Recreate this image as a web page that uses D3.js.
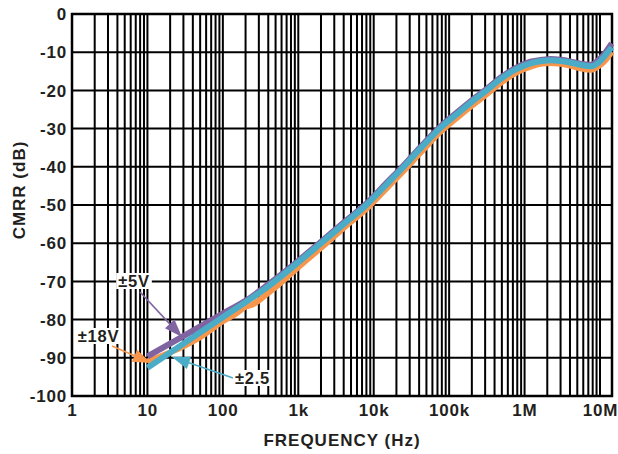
<!DOCTYPE html>
<html><head><meta charset="utf-8">
<script src="https://cdn.jsdelivr.net/npm/d3@7/dist/d3.min.js"></script>
<style>body{margin:0;background:#fff}svg{display:block}text{font-family:"Liberation Sans",Arial,sans-serif;font-weight:bold;fill:#231f20}</style>
</head><body><svg id="c" width="618" height="454"></svg>
<script>
// ---- data ----
const freq5 = [10,30,100,207,400,1e3,2e3,4e3,8e3,1.5e4,2.5e4,4.5e4,7.5e4,1.3e5,2e5,3.15e5,5e5,8e5,1.2e6,1.7e6,2.2e6,3e6,4e6,5.5e6,7.5e6,1e7,1.2e7,1.43e7];
const cmrr5V = [-89.6,-84.3,-78.4,-74.9,-70.8,-64.6,-59.6,-54.6,-49.6,-44.1,-39.6,-34.1,-29.6,-25.6,-22.6,-19.6,-16.4,-13.9,-12.5,-12.0,-11.8,-12.0,-12.4,-13.0,-13.3,-11.7,-9.9,-7.7];
const freq18 = [10,20,30,50,100,150,200,250,300,400,600,1e3,2e3,4e3,8e3,1.5e4,2.5e4,4.5e4,7.5e4,1.3e5,2e5,3.15e5,5e5,8e5,1.2e6,1.7e6,2.2e6,3e6,4e6,5.5e6,7.5e6,1e7,1.2e7,1.43e7];
const cmrr18V = [-91,-88.6,-87,-84.6,-80.4,-78.4,-76.6,-76.0,-75.0,-73.0,-70.2,-66.3,-61.2,-56,-51,-45.5,-41,-35.6,-31,-27,-24,-21,-17.8,-15.2,-13.8,-13.0,-12.8,-13.0,-13.5,-14.2,-14.6,-13.4,-11.9,-9.9];
const freq25 = [10,30,100,400,1e3,2e3,4e3,8e3,1.5e4,2.5e4,4.5e4,7.5e4,1.3e5,2e5,3.15e5,5e5,8e5,1.2e6,1.7e6,2.2e6,3e6,4e6,5.5e6,7.5e6,1e7,1.2e7,1.43e7];
const cmrr25V = [-92.6,-86.3,-79.4,-71.3,-65,-60,-55,-50,-44.5,-40,-34.5,-30,-26,-23,-20,-16.8,-14.3,-12.9,-12.3,-12.1,-12.3,-12.7,-13.3,-13.7,-12.4,-10.6,-8.7];
const xTickValues = [1,10,100,1e3,1e4,1e5,1e6,1e7];
const xTickLabels = ["1","10","100","1k","10k","100k","1M","10M"];
const yTickValues = [0,-10,-20,-30,-40,-50,-60,-70,-80,-90,-100];
const seriesNames = ["±18V","±5V","±2.5"];
const seriesColors = ["#f7964a","#8064a2","#4aacc6"];

// ---- layout ----
const L=72, T=14, R=612, B=396, X10M=600;
const svg = d3.select("#c");
const x = d3.scaleLog().domain([1,1e7]).range([L,X10M]);
const y = d3.scaleLinear().domain([-100,0]).range([B,T]);

// grid
const minor = [];
for (let d=1; d<1e7; d*=10) for (let k=2;k<=10;k++) minor.push(d*k);
svg.append("g").selectAll("line").data(minor).join("line")
  .attr("x1",d=>x(d)).attr("x2",d=>x(d)).attr("y1",T).attr("y2",B)
  .attr("stroke","#000").attr("stroke-width",2);
svg.append("g").selectAll("line").data(yTickValues).join("line")
  .attr("x1",L).attr("x2",R).attr("y1",d=>y(d)).attr("y2",d=>y(d))
  .attr("stroke","#000").attr("stroke-width",2);
svg.append("rect").attr("x",L).attr("y",T).attr("width",R-L).attr("height",B-T)
  .attr("fill","none").attr("stroke","#000").attr("stroke-width",2.5);

// tick labels
svg.append("g").selectAll("text").data(yTickValues).join("text")
  .attr("x",67).attr("y",d=>y(d)).attr("dy","0.36em").attr("text-anchor","end")
  .attr("font-size",17).attr("letter-spacing",0.8).text(d=>d);
svg.append("g").selectAll("text").data(xTickValues).join("text")
  .attr("x",d=>x(d)+0.4).attr("y",416).attr("text-anchor","middle")
  .attr("font-size",17).attr("letter-spacing",0.8).text((d,i)=>xTickLabels[i]);
svg.append("text").attr("x",(L+R)/2).attr("y",446).attr("text-anchor","middle")
  .attr("font-size",17).attr("letter-spacing",1).text("FREQUENCY (Hz)");
svg.append("text").attr("transform","translate(25,190) rotate(-90)").attr("text-anchor","middle")
  .attr("font-size",17).attr("letter-spacing",1).text("CMRR (dB)");

// curves
const line = d3.line().x(d=>x(d[0])).y(d=>y(d[1])).curve(d3.curveMonotoneX);
const series = [[freq18,cmrr18V],[freq5,cmrr5V],[freq25,cmrr25V]];
series.forEach((s,i)=>{
  svg.append("path").datum(s[0].map((f,j)=>[f,s[1][j]]))
    .attr("d",line).attr("fill","none").attr("stroke",seriesColors[i])
    .attr("stroke-width",6).attr("stroke-linejoin","round");
});

// annotations
const ann = [
  {i:0, label:"±18V", lx:98.5, ly:342, from:[112,346], tip:[151,363]},
  {i:1, label:"±5V",  lx:134,  ly:287, from:[140,292], tip:[182,337]},
  {i:2, label:"±2.5", lx:252.5,ly:384, from:[233,378], tip:[172,357]}
];
ann.forEach(a=>{
  const g = svg.append("g");
  const dx=a.tip[0]-a.from[0], dy=a.tip[1]-a.from[1], len=Math.hypot(dx,dy);
  const ux=dx/len, uy=dy/len, hl=18, hw=6.5;
  const bx=a.tip[0]-ux*hl, by=a.tip[1]-uy*hl;
  g.append("line").attr("x1",a.from[0]).attr("y1",a.from[1]).attr("x2",bx).attr("y2",by)
    .attr("stroke",seriesColors[a.i]).attr("stroke-width",1.6);
  g.append("path").attr("d",`M${a.tip[0]},${a.tip[1]}L${bx-uy*hw},${by+ux*hw}L${bx+uy*hw},${by-ux*hw}Z`)
    .attr("fill",seriesColors[a.i]);
  const t = svg.append("text").attr("x",a.lx).attr("y",a.ly).attr("text-anchor","middle")
    .attr("font-size",16.5).attr("letter-spacing",0.8).text(a.label);
  const bb = t.node().getBBox();
  svg.insert("rect", function(){return t.node();}).attr("x",bb.x-2).attr("y",bb.y+1).attr("width",bb.width+4).attr("height",bb.height-2).attr("fill","#fff");
});
</script></body></html>
